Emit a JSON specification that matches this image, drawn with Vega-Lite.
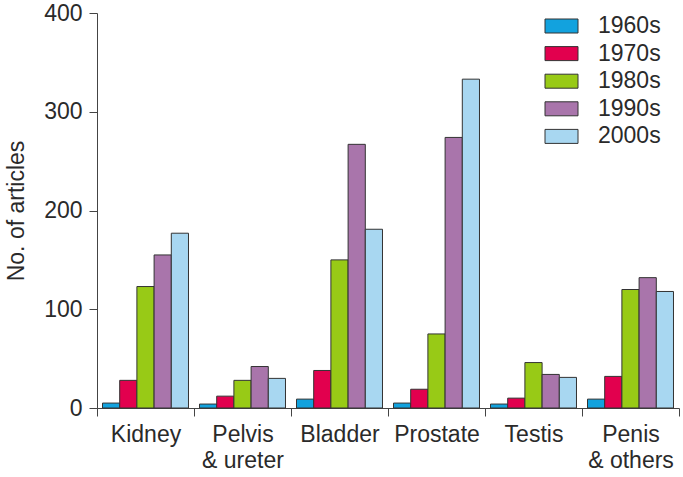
{
  "$schema": "https://vega.github.io/schema/vega-lite/v6.json",
  "autosize": {"type": "none"},
  "width": 582,
  "height": 395,
  "padding": {"left": 97, "top": 13, "right": 4, "bottom": 69},
  "background": "white",
  "config": {
    "view": {"stroke": null},
    "font": "Liberation Sans",
    "axis": {"labelFont": "Liberation Sans", "titleFont": "Liberation Sans", "labelColor": "#2a2a2a", "titleColor": "#2a2a2a", "domainColor": "#444", "tickColor": "#444", "grid": false},
    "legend": {"labelFont": "Liberation Sans", "labelColor": "#2a2a2a"}
  },
  "data": {
    "values": [
      {"site": "Kidney", "decade": "1960s", "n": 5},
      {"site": "Kidney", "decade": "1970s", "n": 28},
      {"site": "Kidney", "decade": "1980s", "n": 123},
      {"site": "Kidney", "decade": "1990s", "n": 155},
      {"site": "Kidney", "decade": "2000s", "n": 177},
      {"site": "Pelvis & ureter", "decade": "1960s", "n": 4},
      {"site": "Pelvis & ureter", "decade": "1970s", "n": 12},
      {"site": "Pelvis & ureter", "decade": "1980s", "n": 28},
      {"site": "Pelvis & ureter", "decade": "1990s", "n": 42},
      {"site": "Pelvis & ureter", "decade": "2000s", "n": 30},
      {"site": "Bladder", "decade": "1960s", "n": 9},
      {"site": "Bladder", "decade": "1970s", "n": 38},
      {"site": "Bladder", "decade": "1980s", "n": 150},
      {"site": "Bladder", "decade": "1990s", "n": 267},
      {"site": "Bladder", "decade": "2000s", "n": 181},
      {"site": "Prostate", "decade": "1960s", "n": 5},
      {"site": "Prostate", "decade": "1970s", "n": 19},
      {"site": "Prostate", "decade": "1980s", "n": 75},
      {"site": "Prostate", "decade": "1990s", "n": 274},
      {"site": "Prostate", "decade": "2000s", "n": 333},
      {"site": "Testis", "decade": "1960s", "n": 4},
      {"site": "Testis", "decade": "1970s", "n": 10},
      {"site": "Testis", "decade": "1980s", "n": 46},
      {"site": "Testis", "decade": "1990s", "n": 34},
      {"site": "Testis", "decade": "2000s", "n": 31},
      {"site": "Penis & others", "decade": "1960s", "n": 9},
      {"site": "Penis & others", "decade": "1970s", "n": 32},
      {"site": "Penis & others", "decade": "1980s", "n": 120},
      {"site": "Penis & others", "decade": "1990s", "n": 132},
      {"site": "Penis & others", "decade": "2000s", "n": 118}
    ]
  },
  "mark": {"type": "bar", "stroke": "#333", "strokeWidth": 1},
  "encoding": {
    "x": {
      "field": "site", "type": "nominal", "sort": null,
      "scale": {"paddingInner": 0, "paddingOuter": 0},
      "axis": {
        "title": null, "labelAngle": 0, "labelFontSize": 23, "labelPadding": 7,
        "tickBand": "extent", "tickSize": 8, "labelLineHeight": 26,
        "labelExpr": "datum.label == 'Pelvis & ureter' ? ['Pelvis', '& ureter'] : datum.label == 'Penis & others' ? ['Penis', '& others'] : datum.label"
      }
    },
    "xOffset": {
      "field": "decade", "type": "nominal",
      "scale": {"paddingInner": 0, "paddingOuter": 0.32}
    },
    "y": {
      "field": "n", "type": "quantitative",
      "scale": {"domain": [0, 400], "nice": false},
      "axis": {"title": "No. of articles", "values": [0, 100, 200, 300, 400], "labelFontSize": 23, "titleFontSize": 23, "titleFontWeight": "normal", "tickSize": 8, "labelPadding": 7, "titlePadding": 15}
    },
    "color": {
      "field": "decade", "type": "nominal",
      "scale": {"domain": ["1960s", "1970s", "1980s", "1990s", "2000s"], "range": ["#12A2DE", "#E2004E", "#98CA16", "#A975AB", "#A8D7F1"]},
      "legend": {
        "title": null, "orient": "none", "legendX": 453, "legendY": 1.5,
        "symbolType": "M-1.65,-0.7H1.65V0.7H-1.65Z", "symbolSize": 400,
        "symbolStrokeColor": "#333", "symbolStrokeWidth": 1, "symbolOpacity": 1,
        "labelFontSize": 23, "labelOffset": 25, "rowPadding": 3.6, "padding": 0
      }
    }
  }
}
